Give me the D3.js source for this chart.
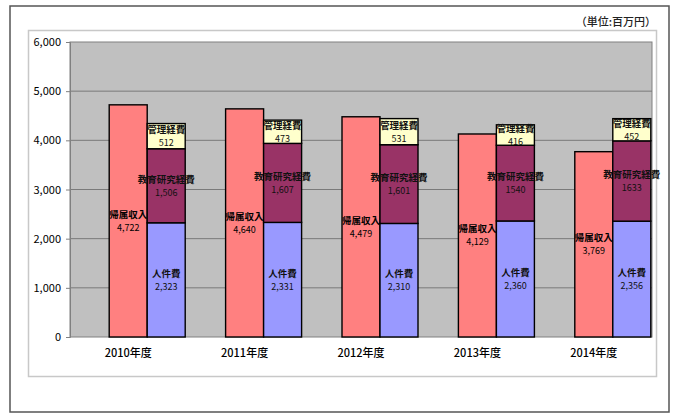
<!DOCTYPE html>
<html><head><meta charset="utf-8">
<script src="https://cdn.jsdelivr.net/npm/d3@7"></script>
<style>body{margin:0;background:#fff}svg{display:block}text{font-family:"Noto Sans CJK JP","Noto Sans",sans-serif}</style>
</head><body><svg id="c" width="675" height="418"></svg>
<script>
const categories = ["2010年度","2011年度","2012年度","2013年度","2014年度"];
const income = [4722, 4640, 4479, 4129, 3769];          // 帰属収入
const personnel = [2323, 2331, 2310, 2360, 2356];       // 人件費
const education = [1506, 1607, 1601, 1540, 1633];       // 教育研究経費
const educationLabels = ["1,506","1,607","1,601","1540","1633"];
const admin = [512, 473, 531, 416, 452];                // 管理経費
const yTicks = [0,1000,2000,3000,4000,5000,6000];

const svg = d3.select("#c");
svg.append("rect").attr("x",10).attr("y",6).attr("width",659).attr("height",406)
  .attr("fill","#fff").attr("stroke","#555").attr("stroke-width",1.5);
svg.append("rect").attr("x",28.5).attr("y",30.5).attr("width",628).attr("height",346)
  .attr("fill","#fff").attr("stroke","#c8c8c8").attr("stroke-width",1.5);
svg.append("text").attr("x",656).attr("y",26).attr("text-anchor","end")
  .attr("font-size",11).attr("font-weight",500).attr("fill","#222").text("（単位:百万円）");

const L=70,R=652,T=42,B=337;
const x = d3.scaleBand().domain(categories).range([L,R]);
const y = d3.scaleLinear().domain([0,6000]).range([B,T]);
const bw = 38;

svg.append("rect").attr("x",L).attr("y",T).attr("width",R-L).attr("height",B-T)
  .attr("fill","#C0C0C0").attr("stroke","#808080").attr("stroke-width",1);

const g = svg.append("g");
g.selectAll(".grid").data(yTicks.slice(1,-1)).join("line")
  .attr("x1",L).attr("x2",R).attr("y1",d=>y(d)).attr("y2",d=>y(d))
  .attr("stroke","#7a7a7a").attr("stroke-width",1);

const yAxis = d3.axisLeft(y).tickValues(yTicks).tickFormat(d3.format(",")).tickSize(4).tickPadding(5);
const ya = svg.append("g").attr("transform",`translate(${L},0)`).call(yAxis);
ya.select(".domain").attr("stroke","#808080");
ya.selectAll(".tick line").attr("stroke","#808080");
ya.selectAll("text").attr("font-size",11).attr("fill","#000").attr("font-family","Liberation Sans, Arial, sans-serif");

const xAxis = d3.axisBottom(x).tickSize(0).tickPadding(12);
const xa = svg.append("g").attr("transform",`translate(0,${B})`).call(xAxis);
xa.select(".domain").remove();
xa.selectAll("text").attr("font-size",11).attr("font-weight",500).attr("fill","#000");

const cx = c => x(c) + x.bandwidth()/2;

categories.forEach((c,i)=>{
  const x0 = cx(c) - bw/2;
  g.append("rect").attr("x",x0).attr("y",y(income[i])).attr("width",bw).attr("height",y(0)-y(income[i]))
    .attr("fill","#FF8080").attr("stroke","#000").attr("stroke-width",1.4);
  const my = (y(0)+y(income[i]))/2;
  g.append("text").attr("x",x0+bw/2).attr("y",my-3).attr("text-anchor","middle").attr("font-size",9.5).attr("font-weight","bold").text("帰属収入");
  g.append("text").attr("x",x0+bw/2).attr("y",my+10).attr("text-anchor","middle").attr("font-size",9).attr("font-family","Liberation Sans, Arial, sans-serif").text(d3.format(",")(income[i]));

  const sx = x0 + bw;
  const segs = [
    {v:personnel[i], name:"人件費", lab:d3.format(",")(personnel[i]), fill:"#9999FF"},
    {v:education[i], name:"教育研究経費", lab:educationLabels[i], fill:"#993366"},
    {v:admin[i], name:"管理経費", lab:d3.format(",")(admin[i]), fill:"#FFFFCC"}
  ];
  let acc = 0;
  segs.forEach(s=>{
    const y1 = y(acc), y2 = y(acc+s.v);
    g.append("rect").attr("x",sx).attr("y",y2).attr("width",bw).attr("height",y1-y2)
      .attr("fill",s.fill).attr("stroke","#000").attr("stroke-width",1.4);
    acc += s.v;
  });
  acc = 0;
  segs.forEach(s=>{
    const y1 = y(acc), y2 = y(acc+s.v);
    const m = (y1+y2)/2;
    g.append("text").attr("x",sx+bw/2).attr("y",m-3).attr("text-anchor","middle").attr("font-size",9.5).attr("font-weight","bold").attr("fill","#111").text(s.name);
    g.append("text").attr("x",sx+bw/2).attr("y",m+10).attr("text-anchor","middle").attr("font-size",9).attr("font-family","Liberation Sans, Arial, sans-serif").attr("fill","#111").text(s.lab);
    acc += s.v;
  });
});
</script></body></html>
